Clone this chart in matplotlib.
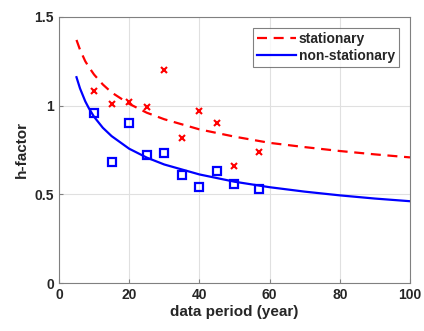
import matplotlib.pyplot as plt

plt.rcParams['font.family'] = ['Liberation Sans', 'DejaVu Sans']
plt.rcParams['font.weight'] = 'bold'

# observed points
period = [10, 15, 20, 25, 30, 35, 40, 45, 50, 57]
h_stat = [1.08, 1.01, 1.02, 0.99, 1.20, 0.82, 0.97, 0.90, 0.66, 0.74]
h_nonstat = [0.96, 0.68, 0.90, 0.72, 0.73, 0.61, 0.54, 0.63, 0.56, 0.53]

# fitted curves
curve_x = [5, 6, 7.5, 8.5, 10, 12.5, 15, 20, 25, 30, 40, 50, 60, 70, 80, 90, 100]
curve_stat = [1.37, 1.315, 1.25, 1.218, 1.175, 1.119, 1.074, 1.01, 0.96, 0.923,
              0.866, 0.825, 0.79, 0.766, 0.744, 0.725, 0.708]
curve_nonstat = [1.16, 1.097, 1.024, 0.986, 0.937, 0.875, 0.828, 0.757, 0.707, 0.668,
                 0.612, 0.571, 0.54, 0.515, 0.494, 0.476, 0.461]

fig = plt.figure(figsize=(4.24, 3.31), dpi=100)
ax = fig.add_axes([0.139, 0.145, 0.828, 0.804])

ax.plot(curve_x, curve_stat, '--', color='#ff0000', lw=1.6, dashes=(4.5, 3), label='stationary')
ax.plot(curve_x, curve_nonstat, '-', color='#0000ff', lw=1.6, label='non-stationary')
ax.plot(period, h_stat, 'x', color='#ff0000', ms=5, mew=1.5)
ax.plot(period, h_nonstat, 's', color='#0000ff', ms=5.5, mew=1.6, mfc='none')

ax.set_xlim(0, 100)
ax.set_ylim(0, 1.5)
ax.set_xticks([0, 20, 40, 60, 80, 100])
ax.set_yticks([0, 0.5, 1, 1.5])
ax.set_yticklabels(['0', '0.5', '1', '1.5'])
ax.grid(True, color='#e0e0e0', lw=0.8)
ax.set_axisbelow(True)
ax.tick_params(direction='in', length=3, colors='#808080', labelcolor='#262626', labelsize=10)
for s in ax.spines.values():
    s.set_color('#808080')

ax.set_xlabel('data period (year)', fontsize=11, fontweight='bold', color='#262626', labelpad=2)
ax.set_ylabel('h-factor', fontsize=11, fontweight='bold', color='#262626', labelpad=4)

leg = ax.legend(loc='upper right', fontsize=10, fancybox=False, handlelength=2.8,
                handletextpad=0.2, borderpad=0.3, labelspacing=0.2, borderaxespad=0.8)
leg.get_frame().set_edgecolor('#606060')
leg.get_frame().set_linewidth(0.8)
for t in leg.get_texts():
    t.set_color('#262626')

fig.savefig('out.png', dpi=100)
